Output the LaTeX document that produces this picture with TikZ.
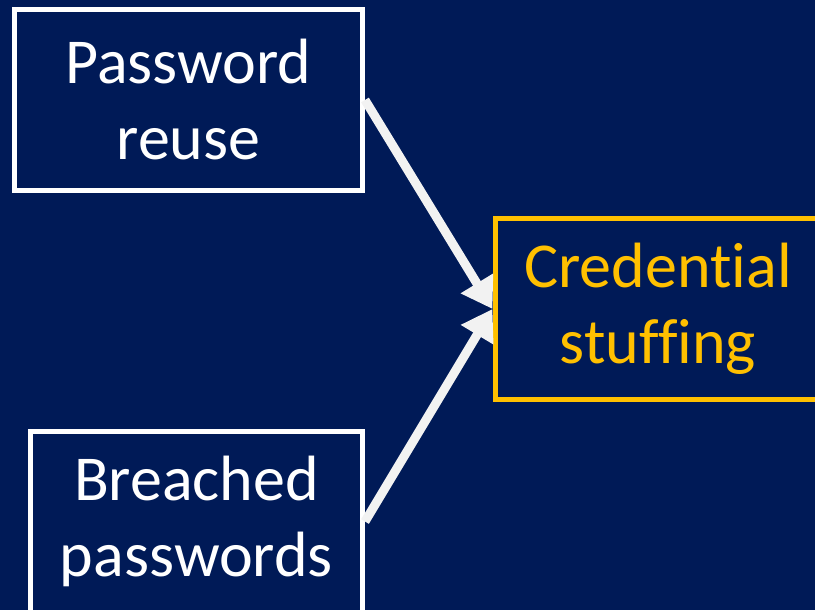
\documentclass[tikz,border=0pt]{standalone}
\usepackage{fontspec}
\setmainfont{Carlito}[Ligatures=NoCommon]
\usetikzlibrary{arrows.meta}

\definecolor{navy}{HTML}{001A57}
\definecolor{gold}{HTML}{FFC000}
\definecolor{arrowgray}{HTML}{F2F2F2}

\tikzset{
  causebox/.style={draw=white, line width=5pt, text=white, align=center,
    minimum width=348pt, minimum height=181pt,
    font=\fontsize{64}{76}\selectfont},
  effectbox/.style={causebox, draw=gold, text=gold, minimum width=326pt},
  feeds/.style={draw=arrowgray, line width=9pt,
    -{Triangle[width=36pt,length=30pt]}}
}

\begin{document}
\begin{tikzpicture}[x=1pt,y=-1pt]
    \fill[navy] (0,0) rectangle (815,610);
    \clip (0,0) rectangle (815,610);

    \node[causebox] (reuse) at (188.5,100) {Password\\reuse};
    \node[causebox, minimum width=332pt] (breach) at (196.5,521.5) {Breached\\passwords};
    \node[effectbox] (stuffing) at (658,309) {Credential\\stuffing};

    \draw[feeds] (reuse.east) -- (stuffing.west);
    \draw[feeds] (breach.east) -- (stuffing.west);
\end{tikzpicture}
\end{document}
